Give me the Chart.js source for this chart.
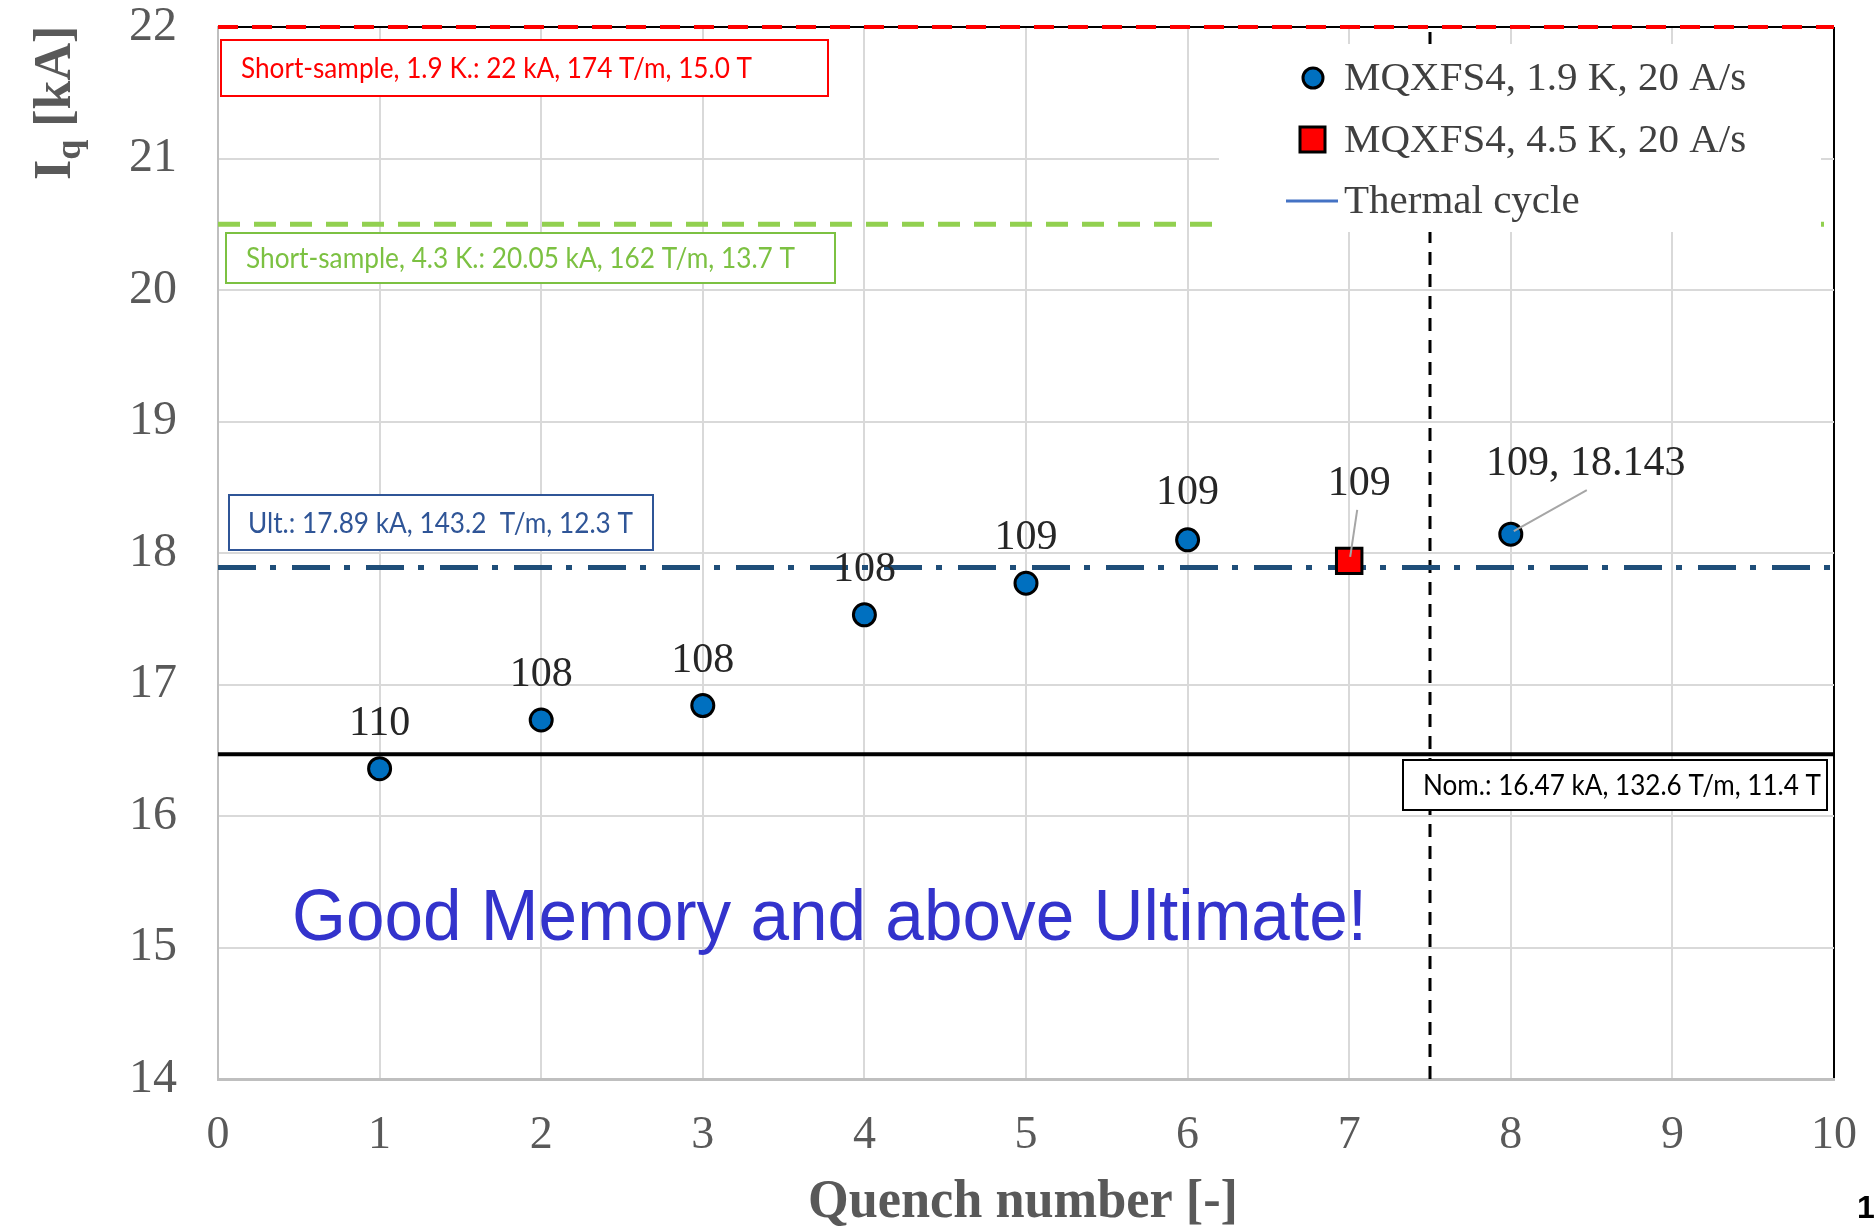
<!DOCTYPE html>
<html>
<head>
<meta charset="utf-8">
<script src="https://cdn.jsdelivr.net/npm/chart.js@4.4.0/dist/chart.umd.min.js"></script>
<style>
  html, body { margin: 0; padding: 0; background: #fff; }
</style>
</head>
<body>
<canvas id="quenchChart" width="1876" height="1227"></canvas>
<script>
  // quench data, MQXFS4
  const quench19 = [1, 2, 3, 4, 5, 6, 8];
  const current19 = [16.36, 16.73, 16.84, 17.53, 17.77, 18.10, 18.143];
  const label19 = ['110', '108', '108', '108', '109', '109', '109, 18.143'];

  const quench45 = [7];
  const current45 = [17.94];
  const label45 = ['109'];

  const xRange = [0, 10];
  const yRange = [14, 22];

  // reference levels [kA] and thermal cycle position
  const shortSample19 = 22;
  const shortSample43 = 20.5;
  const ultimateLevel = 17.89;
  const nominalLevel = 16.47;
  const thermalCycleAt = 7.5;

  const seriesNames = ['MQXFS4, 1.9 K, 20 A/s', 'MQXFS4, 4.5 K, 20 A/s', 'Thermal cycle'];
  const boxTexts = [
    'Short-sample, 1.9 K.: 22 kA, 174 T/m, 15.0 T',
    'Short-sample, 4.3 K.: 20.05 kA, 162 T/m, 13.7 T',
    'Ult.: 17.89 kA, 143.2  T/m, 12.3 T',
    'Nom.: 16.47 kA, 132.6 T/m, 11.4 T'
  ];
  const bigText = 'Good Memory and above Ultimate!';

  // label placement (pixels, relative to the point)
  const offsets19 = [[0, -45], [0, -45], [0, -45], [0, -45], [0, -45], [0, -47], [75, -70]];
  const offsets45 = [[10, -77]];
  const leaders19 = {6: [[76, -44], [3, -3]]};
  const leaders45 = {0: [[8, -51], [1, -4]]};

  // boxes: x, y, w, h, colour, text x, text w
  const boxStyles = [
    {x: 221, y: 40, w: 607, h: 56, color: '#ff0000', tx: 241, tw: 511},
    {x: 226, y: 233, w: 609, h: 50, color: '#7cc142', tx: 246, tw: 549},
    {x: 229, y: 495, w: 424, h: 55, color: '#2f5597', tx: 248, tw: 385},
    {x: 1403, y: 760, w: 424, h: 50, color: '#000000', tx: 1423, tw: 398}
  ];

  const serif = '"Liberation Serif", "Times New Roman", serif';
  const pairs = (xs, ys) => xs.map((x, i) => ({x: x, y: ys[i]}));
  const hLine = v => [{x: xRange[0], y: v}, {x: xRange[1], y: v}];

  const overlay = {
    id: 'overlay',
    afterDatasetsDraw(chart) {
      const ctx = chart.ctx;
      ctx.save();

      // data labels
      ctx.font = '42px ' + serif;
      ctx.fillStyle = '#262626';
      ctx.textAlign = 'center';
      ctx.textBaseline = 'middle';
      const drawLabels = (dsIndex, labels, offs, leaders) => {
        const meta = chart.getDatasetMeta(dsIndex);
        meta.data.forEach((pt, i) => {
          const ld = leaders[i];
          if (ld) {
            ctx.strokeStyle = '#a6a6a6';
            ctx.lineWidth = 2;
            ctx.beginPath();
            ctx.moveTo(pt.x + ld[0][0], pt.y + ld[0][1]);
            ctx.lineTo(pt.x + ld[1][0], pt.y + ld[1][1]);
            ctx.stroke();
          }
          ctx.fillText(labels[i], pt.x + offs[i][0], pt.y + offs[i][1]);
        });
      };
      drawLabels(0, label19, offsets19, leaders19);
      drawLabels(1, label45, offsets45, leaders45);

      // annotation boxes
      ctx.textAlign = 'left';
      boxStyles.forEach((b, i) => {
        ctx.fillStyle = '#fff';
        ctx.fillRect(b.x, b.y, b.w, b.h);
        ctx.strokeStyle = b.color;
        ctx.lineWidth = 2;
        ctx.strokeRect(b.x, b.y, b.w, b.h);
        ctx.fillStyle = b.color;
        ctx.font = '28px Lato, "Open Sans", sans-serif';
        ctx.fillText(boxTexts[i], b.tx, b.y + b.h / 2 + 1, b.tw);
      });

      // legend
      ctx.fillStyle = '#fff';
      ctx.fillRect(1219, 44, 602, 188);
      ctx.lineWidth = 3;
      ctx.strokeStyle = '#000';
      ctx.fillStyle = '#0070c0';
      ctx.beginPath();
      ctx.arc(1313, 78, 10, 0, Math.PI * 2);
      ctx.fill();
      ctx.stroke();
      ctx.fillStyle = '#ff0000';
      ctx.fillRect(1300, 127, 25, 25);
      ctx.strokeRect(1300, 127, 25, 25);
      ctx.strokeStyle = '#4472c4';
      ctx.beginPath();
      ctx.moveTo(1286, 201);
      ctx.lineTo(1338, 201);
      ctx.stroke();
      ctx.fillStyle = '#404040';
      ctx.font = '41px ' + serif;
      ctx.fillText(seriesNames[0], 1344, 79);
      ctx.fillText(seriesNames[1], 1344, 141);
      ctx.fillText(seriesNames[2], 1344, 202);

      // big message
      ctx.fillStyle = '#3333cc';
      ctx.font = '72px "Liberation Sans", Arial, sans-serif';
      ctx.textBaseline = 'alphabetic';
      ctx.fillText(bigText, 292, 940, 1075);

      // axis titles
      ctx.fillStyle = '#595959';
      ctx.font = 'bold 54px ' + serif;
      ctx.textAlign = 'center';
      ctx.fillText('Quench number [-]', 1023, 1217, 430);

      ctx.translate(70, 180);
      ctx.rotate(-Math.PI / 2);
      ctx.textAlign = 'left';
      ctx.font = 'bold 52px ' + serif;
      ctx.fillText('I', 0, 0);
      let w = ctx.measureText('I').width;
      ctx.font = 'bold 36px ' + serif;
      ctx.fillText('q', w, 10);
      w += ctx.measureText('q').width;
      ctx.font = 'bold 52px ' + serif;
      ctx.fillText(' [kA]', w, 0);
      ctx.restore();

      // slide number
      ctx.save();
      ctx.fillStyle = '#000';
      ctx.font = 'bold 32px "Liberation Sans", Arial, sans-serif';
      ctx.textAlign = 'left';
      ctx.fillText('1', 1857, 1218);
      ctx.restore();
    }
  };

  const chart = new Chart(document.getElementById('quenchChart'), {
    type: 'scatter',
    data: {
      datasets: [
        {label: seriesNames[0], data: pairs(quench19, current19), pointStyle: 'circle', pointRadius: 11,
          backgroundColor: '#0070c0', borderColor: '#000', borderWidth: 3, order: 0},
        {label: seriesNames[1], data: pairs(quench45, current45), pointStyle: 'rect', pointRadius: 18,
          backgroundColor: '#ff0000', borderColor: '#000', borderWidth: 3, order: 0},
        {type: 'line', label: 'ss19', data: hLine(shortSample19), showLine: true, pointRadius: 0,
          borderColor: '#ff0000', borderWidth: 4, borderDash: [20, 14], clip: false, order: 2},
        {type: 'line', label: 'ss43', data: hLine(shortSample43), showLine: true, pointRadius: 0,
          borderColor: '#92d050', borderWidth: 5, borderDash: [22, 14], order: 2},
        {type: 'line', label: 'ult', data: hLine(ultimateLevel), showLine: true, pointRadius: 0,
          borderColor: '#1f4e79', borderWidth: 5, borderDash: [38, 14, 6, 16], order: 2},
        {type: 'line', label: 'nom', data: hLine(nominalLevel), showLine: true, pointRadius: 0,
          borderColor: '#000', borderWidth: 4, order: 2},
        {type: 'line', label: seriesNames[2], data: [{x: thermalCycleAt, y: yRange[0]}, {x: thermalCycleAt, y: yRange[1]}],
          showLine: true, pointRadius: 0, borderColor: '#000', borderWidth: 3, borderDash: [13, 9], order: 2}
      ]
    },
    options: {
      responsive: false,
      animation: false,
      events: [],
      layout: {padding: {top: 27, right: 42, left: 0, bottom: 0}},
      plugins: {legend: {display: false}, tooltip: {enabled: false}},
      scales: {
        x: {
          type: 'linear', min: xRange[0], max: xRange[1],
          afterFit: s => { s.height = 148; s.paddingLeft = 0; s.paddingRight = 0; },
          ticks: {stepSize: 1, color: '#595959', font: {family: serif, size: 46}, padding: 29},
          grid: {drawTicks: false, lineWidth: 2,
            color: c => (c.tick && c.tick.value === xRange[1]) ? '#000' : '#d9d9d9'},
          border: {color: '#bfbfbf', width: 3}
        },
        y: {
          min: yRange[0], max: yRange[1],
          afterFit: s => { s.width = 218; s.paddingTop = 0; s.paddingBottom = 0; },
          ticks: {stepSize: 1, color: '#595959', font: {family: serif, size: 48}, padding: 41},
          grid: {drawTicks: false, lineWidth: 2,
            color: c => (c.tick && c.tick.value === yRange[1]) ? '#000' : '#d9d9d9'},
          border: {color: '#bfbfbf', width: 2}
        }
      }
    },
    plugins: [overlay]
  });
</script>
</body>
</html>
